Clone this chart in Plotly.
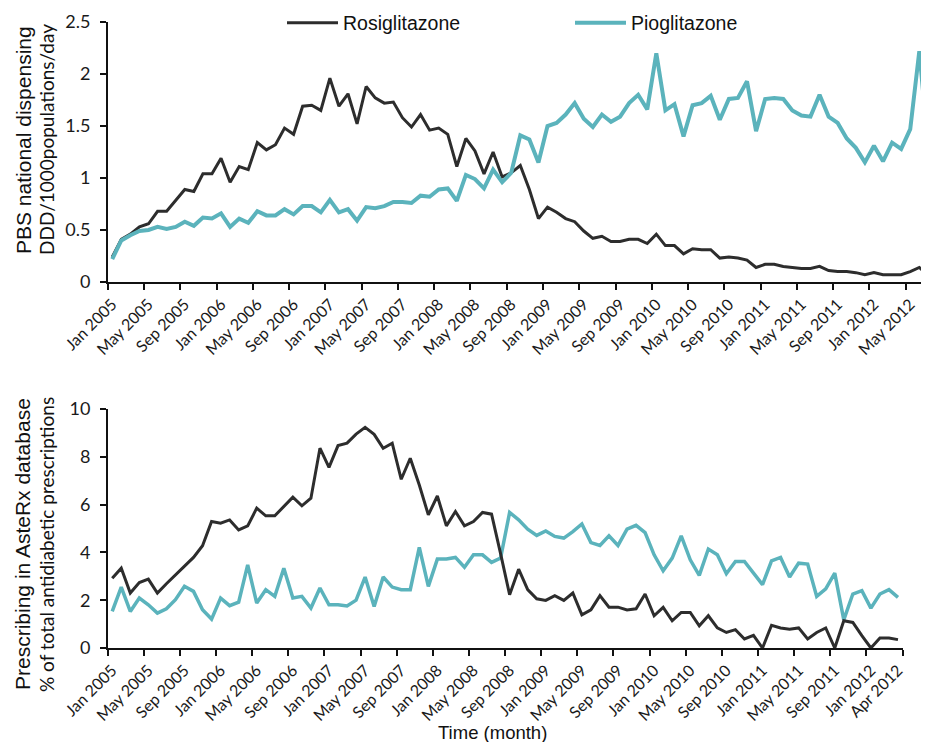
import pandas as pd
import plotly.graph_objects as go

# ---------------- data ----------------
months_top = [d.strftime("%b %Y") for d in pd.date_range("2005-01-01", periods=91, freq="MS")]
months_bot = [d.strftime("%b %Y") for d in pd.date_range("2005-01-01", periods=88, freq="MS")]

rosi_top = [0.24, 0.41, 0.46, 0.53, 0.56, 0.68, 0.68, 0.78, 0.89, 0.87,
            1.04, 1.04, 1.19, 0.96, 1.11, 1.08, 1.34, 1.27, 1.32, 1.48,
            1.42, 1.69, 1.70, 1.65, 1.96, 1.69, 1.81, 1.52, 1.88, 1.77,
            1.72, 1.73, 1.58, 1.49, 1.61, 1.46, 1.48, 1.42, 1.11, 1.38,
            1.26, 1.04, 1.25, 1.01, 1.05, 1.12, 0.89, 0.61, 0.72, 0.67,
            0.61, 0.58, 0.49, 0.42, 0.44, 0.39, 0.39, 0.41, 0.41, 0.37,
            0.46, 0.35, 0.35, 0.27, 0.32, 0.31, 0.31, 0.23, 0.24, 0.23,
            0.21, 0.14, 0.17, 0.17, 0.15, 0.14, 0.13, 0.13, 0.15, 0.11,
            0.10, 0.10, 0.09, 0.07, 0.09, 0.07, 0.07, 0.07, 0.10, 0.14,
            0.06]
pio_top = [0.22, 0.40, 0.45, 0.49, 0.50, 0.53, 0.51, 0.53, 0.58, 0.54,
           0.62, 0.61, 0.66, 0.53, 0.61, 0.57, 0.68, 0.64, 0.64, 0.70,
           0.65, 0.73, 0.73, 0.67, 0.79, 0.67, 0.70, 0.59, 0.72, 0.71,
           0.73, 0.77, 0.77, 0.76, 0.83, 0.82, 0.89, 0.90, 0.78, 1.03,
           0.99, 0.90, 1.08, 0.96, 1.05, 1.41, 1.37, 1.15, 1.50, 1.53,
           1.61, 1.72, 1.57, 1.49, 1.61, 1.54, 1.59, 1.72, 1.80, 1.66,
           2.20, 1.65, 1.71, 1.40, 1.70, 1.72, 1.79, 1.56, 1.76, 1.77,
           1.93, 1.45, 1.76, 1.77, 1.76, 1.65, 1.60, 1.59, 1.80, 1.59,
           1.53, 1.38, 1.29, 1.15, 1.31, 1.16, 1.34, 1.28, 1.47, 2.22,
           1.28]

rosi_bot = [2.92, 3.34, 2.30, 2.74, 2.88, 2.30, 2.69, 3.06, 3.41, 3.79,
            4.28, 5.29, 5.22, 5.36, 4.94, 5.11, 5.85, 5.53, 5.53, 5.92,
            6.31, 5.95, 6.27, 8.36, 7.56, 8.47, 8.57, 8.95, 9.23, 8.94,
            8.36, 8.57, 7.06, 7.94, 6.82, 5.57, 6.36, 5.11, 5.71, 5.11,
            5.29, 5.67, 5.60, 3.95, 2.23, 3.30, 2.44, 2.06, 1.99, 2.19,
            1.99, 2.30, 1.39, 1.60, 2.19, 1.71, 1.71, 1.59, 1.64, 2.26,
            1.35, 1.70, 1.14, 1.49, 1.49, 0.93, 1.35, 0.84, 0.65, 0.77,
            0.38, 0.53, 0.00, 0.95, 0.84, 0.79, 0.84, 0.38, 0.65, 0.84,
            0.00, 1.14, 1.07, 0.52, 0.00, 0.42, 0.42, 0.35]
pio_bot = [1.53, 2.55, 1.53, 2.09, 1.81, 1.46, 1.64, 2.02, 2.58, 2.37,
           1.60, 1.21, 2.09, 1.77, 1.92, 3.48, 1.88, 2.44, 2.16, 3.34,
           2.09, 2.16, 1.67, 2.51, 1.81, 1.81, 1.76, 2.00, 2.97, 1.74,
           2.97, 2.55, 2.44, 2.44, 4.21, 2.58, 3.72, 3.72, 3.79, 3.38,
           3.90, 3.90, 3.58, 3.76, 5.67, 5.36, 4.97, 4.71, 4.90, 4.67,
           4.60, 4.87, 5.19, 4.41, 4.29, 4.69, 4.29, 4.97, 5.13, 4.83,
           3.90, 3.23, 3.76, 4.69, 3.69, 3.04, 4.14, 3.90, 3.11, 3.62,
           3.62, 3.13, 2.65, 3.65, 3.79, 2.97, 3.55, 3.51, 2.16, 2.47,
           3.13, 1.18, 2.26, 2.40, 1.67, 2.26, 2.44, 2.12]

top_tick_idx = list(range(0, 89, 4))
bot_tick_idx = list(range(0, 85, 4)) + [87]

# ---------------- styling ----------------
BLACK = "#2d2d2d"
TEAL = "#5bb3bc"
OFF = 8                      # page body margin of the rendered html
W, H = 929 - OFF, 742 - OFF  # figure size that fits the window
ARIAL = "Liberation Sans, Arial, sans-serif"
CAL = "Lato, Carlito, sans-serif"


def px(sx):
    return (sx - OFF) / W


def py(sy):
    return 1 - (sy - OFF) / H


x_top = list(range(len(months_top)))
x_bot = list(range(len(months_bot)))

fig = go.Figure()
fig.add_trace(go.Scatter(x=x_top, y=rosi_top, mode="lines", name="Rosiglitazone",
                         line=dict(color=BLACK, width=3), xaxis="x", yaxis="y"))
fig.add_trace(go.Scatter(x=x_top, y=pio_top, mode="lines", name="Pioglitazone",
                         line=dict(color=TEAL, width=4), xaxis="x", yaxis="y"))
fig.add_trace(go.Scatter(x=x_bot, y=pio_bot, mode="lines", name="Pioglitazone",
                         line=dict(color=TEAL, width=3.5), xaxis="x2", yaxis="y2",
                         showlegend=False))
fig.add_trace(go.Scatter(x=x_bot, y=rosi_bot, mode="lines", name="Rosiglitazone",
                         line=dict(color=BLACK, width=3), xaxis="x2", yaxis="y2",
                         showlegend=False))


def xax(domain, rng, ticks_idx, labels, anchor):
    return dict(domain=domain, range=rng, anchor=anchor, automargin=False,
                tickmode="array", tickvals=ticks_idx,
                ticktext=[labels[i] for i in ticks_idx],
                tickangle=-45, ticks="outside", ticklen=5, tickcolor="rgba(0,0,0,0)",
                tickfont=dict(family=CAL, size=16, color="#1a1a1a"),
                minor=dict(tickmode="linear", tick0=-0.5, dtick=4, ticks="outside",
                           ticklen=6, tickwidth=1.5, tickcolor="#111"),
                showline=True, linecolor="#111", linewidth=1.5,
                showgrid=False, zeroline=False)


def yax(domain, rng, dtick, anchor):
    return dict(domain=domain, range=rng, anchor=anchor, dtick=dtick, tick0=0,
                automargin=False,
                ticks="outside", ticklen=6, tickwidth=1.5, tickcolor="#111",
                tickfont=dict(family=CAL, size=18, color="#1a1a1a"),
                ticklabelstandoff=6,
                showline=True, linecolor="#111", linewidth=1.5,
                showgrid=False, zeroline=False)


fig.update_layout(
    width=W, height=H,
    margin=dict(l=0, r=0, t=0, b=0, autoexpand=False),
    paper_bgcolor="white", plot_bgcolor="white",
    xaxis=xax([px(107.7), 1.0], [-0.5, 90.07], top_tick_idx, months_top, "y"),
    yaxis=yax([py(282), py(22)], [0, 2.5], 0.5, "x"),
    xaxis2=xax([px(107.7), px(902.5)], [-0.5, 87.5], bot_tick_idx, months_bot, "y2"),
    yaxis2=yax([py(648), py(409)], [0, 10], 2, "x2"),
    showlegend=True,
    legend=dict(orientation="h", x=274 / W, xanchor="left", y=1 - 15 / H, yanchor="middle",
                font=dict(family=ARIAL, size=19.5, color="#111"),
                itemwidth=51, entrywidth=222, bgcolor="rgba(0,0,0,0)"),
    annotations=[
        dict(text="PBS national dispensing", x=px(23), y=py(140), xref="paper", yref="paper",
             textangle=-90, showarrow=False, xanchor="center", yanchor="middle",
             font=dict(family=ARIAL, size=21, color="#111")),
        dict(text="DDD/1000populations/day", x=px(46), y=py(140), xref="paper", yref="paper",
             textangle=-90, showarrow=False, xanchor="center", yanchor="middle",
             font=dict(family=CAL, size=19, color="#111")),
        dict(text="Prescribing in AsteRx database", x=px(22), y=py(544), xref="paper", yref="paper",
             textangle=-90, showarrow=False, xanchor="center", yanchor="middle",
             font=dict(family=ARIAL, size=21, color="#111")),
        dict(text="% of total antidiabetic prescriptions", x=px(46), y=py(545), xref="paper", yref="paper",
             textangle=-90, showarrow=False, xanchor="center", yanchor="middle",
             font=dict(family=CAL, size=19, color="#111")),
        dict(text="Time (month)", x=px(492), y=py(732), xref="paper", yref="paper",
             showarrow=False, xanchor="center", yanchor="middle",
             font=dict(family=ARIAL, size=18.5, color="#111")),
    ],
)

fig.write_html("out.html")
